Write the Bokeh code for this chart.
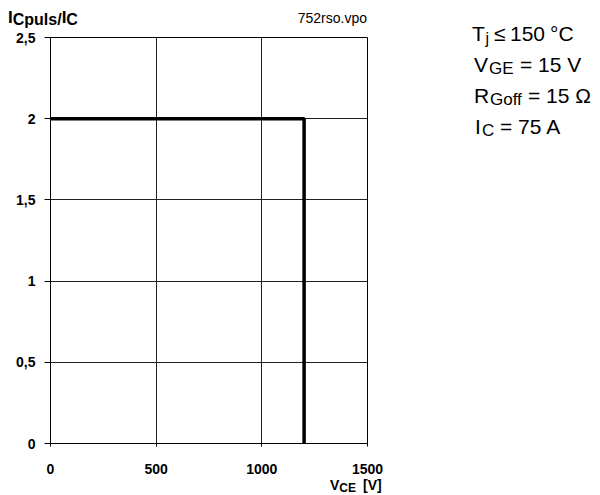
from bokeh.plotting import figure
from bokeh.models import FixedTicker, Range1d, Div
from bokeh.layouts import row, column
from bokeh.embed import file_html
from bokeh.resources import INLINE

# ---- data ----
vce = [0, 1200, 1200]          # V
ratio = [2, 2, 0]              # Icpuls / Ic
x_ticks = [0, 500, 1000, 1500]
x_tick_labels = ["0", "500", "1000", "1500"]
y_ticks = [0, 0.5, 1, 1.5, 2, 2.5]
y_tick_labels = ["0", "0,5", "1", "1,5", "2", "2,5"]

X_MAX = 1500
Y_MAX = 2.5

FONT = "Liberation Sans"

# ---- main chart ----
LEFT_W = 397
TOP_H = 30
BOTTOM_H = 17
RIGHT_W = 201
TOTAL_H = 495

p = figure(frame_width=317, frame_height=406,
           x_range=Range1d(0, X_MAX), y_range=Range1d(0, Y_MAX),
           output_backend="svg", toolbar_location=None,
           min_border_left=50, min_border_right=30,
           min_border_top=7, min_border_bottom=35)

p.outline_line_color = "black"
p.outline_line_width = 1
p.background_fill_color = "white"
p.border_fill_color = "white"

p.xgrid.ticker = FixedTicker(ticks=x_ticks)
p.ygrid.ticker = FixedTicker(ticks=y_ticks)
for g in (p.xgrid, p.ygrid):
    g.grid_line_color = "#222222"
    g.grid_line_width = 1

p.xaxis.ticker = FixedTicker(ticks=x_ticks)
p.yaxis.ticker = FixedTicker(ticks=y_ticks)
p.xaxis.major_label_overrides = {t: s for t, s in zip(x_ticks, x_tick_labels)}
p.yaxis.major_label_overrides = {t: s for t, s in zip(y_ticks, y_tick_labels)}

for ax in (p.xaxis, p.yaxis):
    ax.axis_line_color = "black"
    ax.major_tick_line_color = "black"
    ax.minor_tick_line_color = None
    ax.major_tick_in = 0
    ax.major_label_text_font = FONT
    ax.major_label_text_font_style = "bold"
    ax.major_label_text_font_size = "14px"
    ax.major_label_text_color = "black"

p.xaxis.major_tick_out = 3
p.xaxis.major_label_standoff = 17
p.yaxis.major_tick_out = 6
p.yaxis.major_label_standoff = 9

p.line(vce, ratio, line_color="black", line_width=3.5)


# ---- text panels outside the plot frame (SVG text inside Divs) ----
def svg_div(w, h, body):
    html = (f'<svg xmlns="http://www.w3.org/2000/svg" width="{w}" height="{h}" '
            f'style="display:block" font-family="{FONT}" fill="black">{body}</svg>')
    return Div(text=html, width=w, height=h, margin=0)


top_body = (
    '<text x="8" y="23" font-weight="bold" font-size="17">I'
    '<tspan font-size="16" dy="2">Cpuls/</tspan>'
    '<tspan font-size="17" dy="-2">I</tspan>'
    '<tspan font-size="16" dy="2">C</tspan></text>'
    '<text x="367" y="23" font-size="14" text-anchor="end">752rso.vpo</text>'
)
top = svg_div(LEFT_W, TOP_H, top_body)

bottom_body = (
    '<text x="330" y="12" font-weight="bold" font-size="14">V'
    '<tspan font-size="12" dy="2">CE</tspan>'
    '<tspan x="363" font-size="14" dy="-2">[V]</tspan></text>'
)
bottom = svg_div(LEFT_W, BOTTOM_H, bottom_body)

RX = LEFT_W
right_body = (
    f'<text x="{472 - RX}" y="41" font-size="21">T'
    f'<tspan x="{485.5 - RX}" font-size="16" dy="3">j</tspan>'
    f'<tspan x="{494 - RX}" dy="-3">\u2264</tspan>'
    f'<tspan x="{510 - RX}">150</tspan>'
    f'<tspan x="{550 - RX}">\u00b0C</tspan></text>'

    f'<text x="{474 - RX}" y="72" font-size="21">V'
    f'<tspan x="{489 - RX}" font-size="17" dy="2">GE</tspan>'
    f'<tspan x="{520 - RX}" dy="-2">= 15 V</tspan></text>'

    f'<text x="{474 - RX}" y="103" font-size="21">R'
    f'<tspan x="{490 - RX}" font-size="17" dy="2">Goff</tspan>'
    f'<tspan x="{528 - RX}" dy="-2">= 15 \u03a9</tspan></text>'

    f'<text x="{475 - RX}" y="134" font-size="21">I'
    f'<tspan x="{482 - RX}" font-size="17" dy="2">C</tspan>'
    f'<tspan x="{500 - RX}" dy="-2">= 75 A</tspan></text>'
)
right = svg_div(RIGHT_W, TOTAL_H, right_body)

layout = row(column(top, p, bottom), right)

open("out.html", "w").write(file_html(layout, INLINE))
